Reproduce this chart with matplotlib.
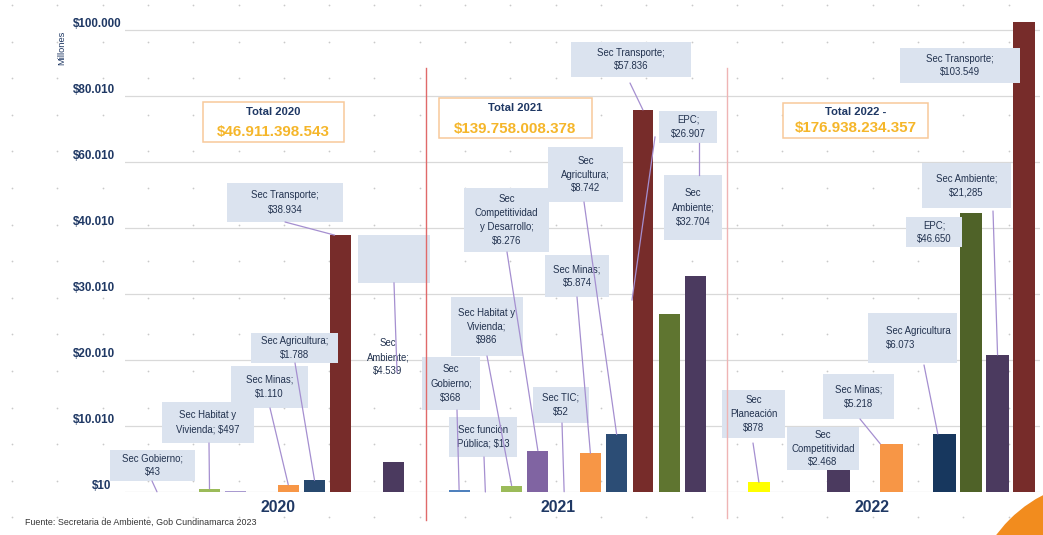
import numpy as np
import matplotlib
matplotlib.use("Agg")
import matplotlib.pyplot as plt
from matplotlib import font_manager
from matplotlib.patches import Rectangle, Circle, ConnectionPatch
import matplotlib.transforms as mtransforms

# ---------------- data ----------------
tick_values = [10, 10010, 20010, 30010, 40010, 60010, 80010, 100000]
tick_labels = ["$10", "$10.010", "$20.010", "$30.010", "$40.010", "$60.010", "$80.010", "$100.000"]

years = ["2020", "2021", "2022"]
totals_title = ["Total 2020", "Total 2021", "Total 2022 -"]
totals_value = ["$46.911.398.543", "$139.758.008.378", "$176.938.234.357"]

sectors_2020 = ["Sec Gobierno", "", "Sec Habitat y Vivienda", "Otro", "", "Sec Minas",
                "Sec Agricultura", "Sec Transporte", "", "Sec Ambiente"]
values_2020 = [43, 0, 497, 150, 0, 1110, 1788, 38934, 0, 4539]
colors_2020 = ["#9aa6d6", "none", "#9bbb59", "#a99bd0", "none", "#f79646",
               "#27486e", "#772c2a", "none", "#4b3a5f"]
labels_2020 = ["Sec Gobierno;\n$43", None, "Sec Habitat y\nVivienda; $497", None, None,
               "Sec Minas;\n$1.110", "Sec Agricultura;\n$1.788", "Sec Transporte;\n$38.934",
               None, "Sec\nAmbiente;\n$4.539"]

sectors_2021 = ["Sec Gobierno", "Sec función Pública", "Sec Habitat y Vivienda",
                "Sec Competitividad y Desarrollo", "Sec TIC", "Sec Minas", "Sec Agricultura",
                "Sec Transporte", "EPC", "Sec Ambiente"]
values_2021 = [368, 13, 986, 6276, 52, 5874, 8742, 75800, 26907, 32704]
colors_2021 = ["#4f81bd", "#e6b9b8", "#9bbb59", "#8064a2", "#b7dee8", "#f79646",
               "#2c4d75", "#772c2a", "#5f7530", "#4b3a5f"]
labels_2021 = ["Sec\nGobierno;\n$368", "Sec función\nPública; $13", "Sec Habitat y\nVivienda;\n$986",
               "Sec\nCompetitividad\ny Desarrollo;\n$6.276", "Sec TIC;\n$52", "Sec Minas;\n$5.874",
               "Sec\nAgricultura;\n$8.742", "Sec Transporte;\n$57.836", "EPC;\n$26.907",
               "Sec\nAmbiente;\n$32.704"]

sectors_2022 = ["Sec Planeación", "Sec función Pública", "Sec Habitat y Vivienda",
                "Sec Competitividad", "Sec TIC", "Sec Minas", "Sec Gobierno",
                "Sec Agricultura", "EPC", "Sec Ambiente", "Sec Transporte"]
values_2022 = [1500, 40, 40, 3500, 40, 7300, 40, 8800, 44500, 20800, 102400]
colors_2022 = ["#ffff00", "#e6b9b8", "#c3d69b", "#4b3a5f", "#b7dee8", "#f79646",
               "#8eb4e3", "#17375e", "#4f6228", "#4b3a5f", "#772c2a"]
labels_2022 = ["Sec\nPlaneación\n$878", None, None, "Sec\nCompetitividad\n$2.468", None,
               "Sec Minas;\n$5.218", None, "Sec Agricultura\n$6.073", "EPC;\n$46.650",
               "Sec Ambiente;\n$21,285", "Sec Transporte;\n$103.549"]

source_text = "Fuente: Secretaria de Ambiente, Gob Cundinamarca 2023"

# ---------------- fonts ----------------
names = {f.name for f in font_manager.fontManager.ttflist}
if "Liberation Sans Narrow" in names:
    FAM = ["Liberation Sans Narrow", "DejaVu Sans"]
    k = 1.0
else:
    FAM = ["Liberation Sans", "DejaVu Sans"]
    k = 0.84
plt.rcParams["font.family"] = FAM

NAVY = "#1f3864"
TXT = "#22324f"
BOX = "#dbe3ef"
LEAD = "#a58fd0"

W, H = 1043, 535
fig = plt.figure(figsize=(W / 100, H / 100), dpi=100)
fig.patch.set_facecolor("white")

# background overlay (pixel coords, y down)
bg = fig.add_axes([0, 0, 1, 1], zorder=0)
bg.set_xlim(0, W); bg.set_ylim(H, 0); bg.axis("off")
dx = np.arange(12, W, 45.3)
dy = np.arange(5, H, 36.6)
DX, DY = np.meshgrid(dx, dy)
bg.scatter(DX.ravel(), DY.ravel(), s=1.6, color="#c9c9c9", linewidths=0)

# main axes
L, R, B, T = 125, 1040, 492, 10
UNIT = 66.0
ax = fig.add_axes([L / W, (H - B) / H, (R - L) / W, (B - T) / H], zorder=1)
ax.set_facecolor("none")

tv = np.array(tick_values, float)
tp = np.arange(len(tv), dtype=float)


def fwd(v):
    v = np.asarray(v, float)
    out = np.interp(v, tv, tp)
    out = np.where(v < tv[0], (v - tv[0]) / (tv[1] - tv[0]), out)
    out = np.where(v > tv[-1], tp[-1] + (v - tv[-1]) / (tv[-1] - tv[-2]), out)
    return out


def inv(p):
    p = np.asarray(p, float)
    out = np.interp(p, tp, tv)
    out = np.where(p < 0, tv[0] + p * (tv[1] - tv[0]), out)
    out = np.where(p > tp[-1], tv[-1] + (p - tp[-1]) * (tv[-1] - tv[-2]), out)
    return out


ax.set_yscale("function", functions=(fwd, inv))
ax.set_ylim(tick_values[0], float(inv((B - T) / UNIT)))
SLOT = 26.0
ax.set_xlim(0, (R - L) / SLOT)
ax.set_yticks(tick_values)
ax.yaxis.grid(True, color="#d9d9d9", lw=0.9)
ax.set_axisbelow(True)
ax.tick_params(left=False, labelleft=False, bottom=False, labelbottom=False)
for s in ax.spines.values():
    s.set_visible(False)

offsets = [1.23, 12.85, 24.38]
steps = [1.01, 1.01, 1.02]
widths = [0.8, 0.8, 0.86]
groups = [(values_2020, colors_2020), (values_2021, colors_2021), (values_2022, colors_2022)]
xpos = []
for g, (vals, cols) in enumerate(groups):
    xs = offsets[g] + steps[g] * np.arange(len(vals))
    xpos.append(xs)
    ax.bar(xs, vals, width=widths[g], color=cols, zorder=2, linewidth=0)

# y tick labels
tr = mtransforms.blended_transform_factory(bg.transData, ax.transData)
for v, lab in zip(tick_values, tick_labels):
    if lab == "$10":
        ax.text(111, v, lab, transform=tr, ha="right", va="bottom", fontsize=10 * k,
                fontweight="bold", color=NAVY)
    else:
        ax.text(73, v, lab, transform=tr, ha="left", va="bottom", fontsize=10 * k,
                fontweight="bold", color=NAVY)

# foreground overlay
ov = fig.add_axes([0, 0, 1, 1], zorder=3)
ov.set_xlim(0, W); ov.set_ylim(H, 0); ov.axis("off"); ov.set_facecolor("none")

ov.text(62, 48, "Millones", rotation=90, ha="center", va="center", fontsize=8 * k, color=NAVY)

# separators
sep1 = (offsets[0] + steps[0] * 9 + offsets[1]) / 2
sep2 = (offsets[1] + steps[1] * 9 + offsets[2]) / 2
xtr = mtransforms.blended_transform_factory(ax.transData, ov.transData)
ov.plot([sep1, sep1], [68, 520], color="#e06a6a", lw=1.0, transform=xtr, clip_on=False)
ov.plot([sep2, sep2], [68, 518], color="#efb4b4", lw=1.0, transform=xtr, clip_on=False)

# year labels
for yx, yl in zip([278, 558, 872], years):
    ov.text(yx, 507, yl, ha="center", va="center", fontsize=13.5 * k, fontweight="bold", color=NAVY)

ov.text(25, 522, source_text, ha="left", va="center", fontsize=7.6 * k, color="#333333")

# totals
tot_boxes = [(203, 344, 102, 142, 112, 132), (439, 592, 98, 138, 108, 129), (783, 928, 103, 138, 112, 128)]
for (x0, x1, y0, y1, yt, yv), t1, t2 in zip(tot_boxes, totals_title, totals_value):
    ov.add_patch(Rectangle((x0, y0), x1 - x0, y1 - y0, facecolor="white", edgecolor="#f8c99a", lw=1.1))
    ov.text((x0 + x1) / 2, yt, t1, ha="center", va="center", fontsize=9.6 * k, fontweight="bold", color=NAVY)
    ov.text((x0 + x1) / 2, yv, t2, ha="center", va="center", fontsize=13 * k, fontweight="bold", color="#f5b62a")

FS = 8.3 * k


def box(x0, x1, y0, y1, text=None, ha="center", tx=None):
    ov.add_patch(Rectangle((x0, y0), x1 - x0, y1 - y0, facecolor=BOX, edgecolor="none"))
    if text:
        if ha == "center":
            ov.text((x0 + x1) / 2, (y0 + y1) / 2, text, ha="center", va="center", fontsize=FS,
                    color=TXT, linespacing=1.5)
        else:
            ov.text(tx, (y0 + y1) / 2, text, ha="left", va="center", fontsize=FS,
                    color=TXT, linespacing=1.6)


def lead(start, g=None, i=None, end=None, corner=0.0):
    if end is not None:
        ov.plot([start[0], end[0]], [start[1], end[1]], color=LEAD, lw=0.9, zorder=5)
        return
    vals = groups[g][0]
    xb = xpos[g][i] + corner * widths[g] / 2
    cp = ConnectionPatch(xyA=start, coordsA=ov.transData, xyB=(xb, vals[i]), coordsB=ax.transData,
                         color=LEAD, lw=0.9, zorder=5)
    fig.add_artist(cp)


# 2020 annotations
box(110, 195, 450, 481, labels_2020[0]); lead((152, 481), 0, 0)
box(162, 254, 402, 443, labels_2020[2]); lead((209, 443), 0, 2)
box(231, 308, 366, 408, labels_2020[5]); lead((270, 408), 0, 5)
box(251, 338, 333, 363, labels_2020[6]); lead((295, 363), 0, 6)
box(227, 343, 183, 222, labels_2020[7]); lead((285, 222), 0, 7, corner=-0.6)
box(358, 430, 235, 283)
ov.text(388, 357, labels_2020[9], ha="center", va="center", fontsize=FS, color=TXT, linespacing=1.5)
lead((394, 283), end=(397, 372))

# 2021 annotations
box(422, 480, 357, 410, labels_2021[0]); lead((457, 410), 1, 0)
box(449, 517, 417, 457, labels_2021[1]); lead((484, 457), 1, 1)
box(451, 523, 297, 356, labels_2021[2]); lead((487, 356), 1, 2)
box(464, 549, 188, 252, labels_2021[3]); lead((507, 252), 1, 3)
box(533, 589, 387, 423, labels_2021[4]); lead((562, 423), 1, 4)
box(545, 609, 255, 297, labels_2021[5]); lead((577, 297), 1, 5)
box(548, 623, 147, 202, labels_2021[6]); lead((584, 202), 1, 6)
box(571, 691, 42, 77, labels_2021[7]); lead((630, 83), 1, 7)
box(659, 717, 111, 143, labels_2021[8]); lead((655, 137), end=(632, 300))
box(664, 722, 175, 240, labels_2021[9]); lead((699, 143), end=(699, 175))

# 2022 annotations
box(722, 785, 390, 438, labels_2022[0]); lead((753, 443), 2, 0)
box(787, 859, 427, 470, labels_2022[3])
box(823, 894, 374, 419, labels_2022[5]); lead((860, 419), 2, 5, corner=-1.0)
box(868, 957, 313, 363, labels_2022[7], ha="left", tx=886); lead((924, 365), 2, 7, corner=-0.6)
box(906, 962, 217, 247, labels_2022[8])
box(922, 1011, 163, 208, labels_2022[9]); lead((993, 211), 2, 9)
box(900, 1020, 48, 83, labels_2022[10])

# orange swoosh bottom-right
ov.add_patch(Circle((1105, 615), 135, facecolor="#f28c1e", edgecolor="none"))

fig.savefig("out.png", dpi=100)
